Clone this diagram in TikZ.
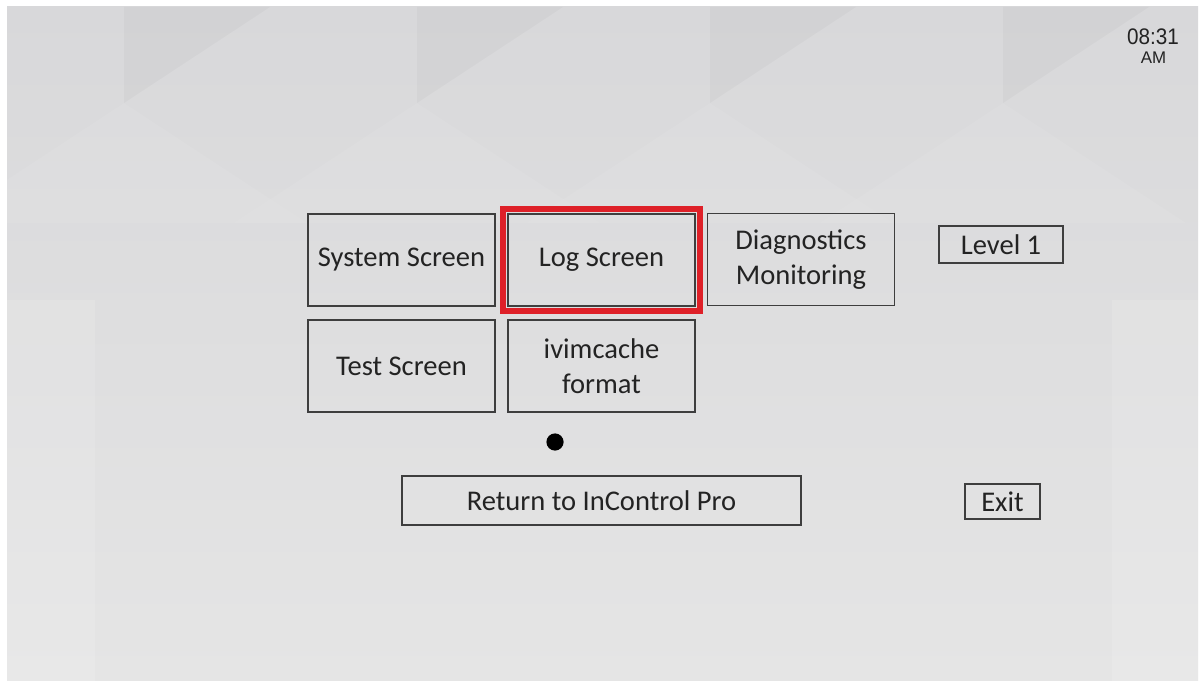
\documentclass[tikz,border=0pt]{standalone}
\usepackage{fontspec}
\setmainfont{Carlito}
\newfontfamily\relojfont{Liberation Sans}
\usetikzlibrary{positioning}
\definecolor{fondo}{RGB}{229,229,229}
\definecolor{fondoarriba}{RGB}{216,216,218}
\definecolor{borde}{RGB}{62,62,62}
\definecolor{texto}{RGB}{35,35,35}
\definecolor{rojo}{RGB}{222,32,40}
\tikzset{
  boton/.style={draw=borde, line width=0.04cm, text=texto, align=center,
    font=\fontsize{20.3}{25}\selectfont, inner sep=0pt},
  grande/.style={boton, minimum width=4.675cm, minimum height=2.3cm},
}

\begin{document}
\begin{tikzpicture}[x=0.025cm,y=-0.025cm]
        % Marco de la pantalla
        \useasboundingbox (0,0) rectangle (1202,681);
        \fill[white] (0,0) rectangle (1202,681);
        \shade[top color=fondoarriba, bottom color=fondo] (7,7) rectangle (1198,681);
        % Facetas del fondo
        \foreach \a in {124,417,710,1003}{
            \fill[black,opacity=0.022] (\a,7) -- (\a+146,7) -- (\a,103) -- cycle;
            \fill[white,opacity=0.06] (\a,103) -- (\a-183,223) -- (\a+183,223) -- cycle;
        }
        \fill[white,opacity=0.12] (7,300) rectangle (95,681);
        \fill[white,opacity=0.12] (1112,300) rectangle (1198,681);
        % Hora
        \node[font=\relojfont\fontsize{16}{16}\selectfont, text=texto, xscale=0.92] (hora) at (1153,36.5) {08:31};
        \node[font=\relojfont\fontsize{12}{12}\selectfont, text=texto] (ampm) at (1153.5,57.5) {AM};
        % Primera fila
        \node[grande] (sistema) at (401.5,260) {System Screen};
        \node[grande] (log) at (601.5,260) {Log Screen};
        \node[grande] (diag) at (801,259.5) {Diagnostics\\Monitoring};
        \node[boton, minimum width=3.1cm, minimum height=0.925cm] (nivel) at (1001,244.5) {Level 1};
        % Marco rojo de seleccion
        \draw[rojo, line width=0.15cm] ([xshift=-0.1cm,yshift=0.1cm]log.north west) rectangle ([xshift=0.1cm,yshift=-0.1cm]log.south east);
        % Segunda fila
        \node[grande] (prueba) at (401.5,366) {Test Screen};
        \node[grande] (cache) at (601.5,366) {ivimcache\\format};
        % Punto
        \node[circle, fill=black, minimum size=0.43cm, inner sep=0pt] (punto) at (555,442) {};
        % Botones de abajo
        \node[boton, minimum width=9.975cm, minimum height=1.225cm] (volver) at (601.5,500.5) {Return to InControl Pro};
        \node[boton, minimum width=1.875cm, minimum height=0.875cm] (salir) at (1002.5,501.5) {Exit};
\end{tikzpicture}
\end{document}
